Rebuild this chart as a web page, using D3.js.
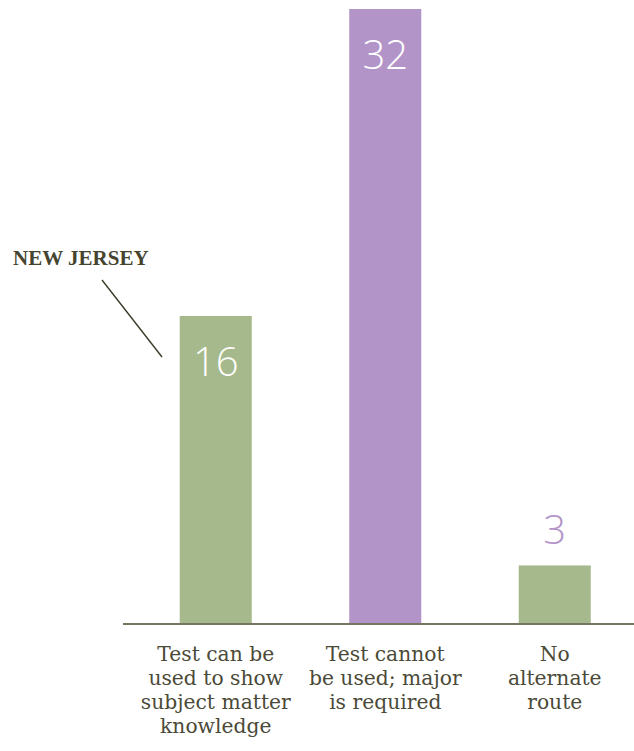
<!DOCTYPE html>
<html>
<head>
<meta charset="utf-8">
<script src="https://cdn.jsdelivr.net/npm/d3@7"></script>
<style>
  html, body { margin: 0; padding: 0; background: #ffffff; }
  svg { display: block; }
  .serif { font-family: "DejaVu Serif", "Liberation Serif", serif; }
  .bserif { font-family: "Liberation Serif", "DejaVu Serif", serif; }
</style>
</head>
<body>
<svg id="chart" width="634" height="751"></svg>
<script>
const categories = ["Test can be used to show subject matter knowledge", "Test cannot be used; major is required", "No alternate route"];
const categoryLines = [
  ["Test can be", "used to show", "subject matter", "knowledge"],
  ["Test cannot", "be used; major", "is required"],
  ["No", "alternate", "route"]
];
const values = [16, 32, 3];
const barColors = ["#a6b98c", "#b394c8", "#a6b98c"];
const labelInside = [true, true, false];
const annotation = "NEW JERSEY";

const svg = d3.select("#chart");
const baseY = 623;

const x = d3.scaleBand()
  .domain(categories)
  .range([131, 639.5])
  .paddingInner(0.575)
  .paddingOuter(0.2875);

const y = d3.scaleLinear().domain([0, 32]).range([baseY, 9]);

// bars
svg.selectAll("rect.bar")
  .data(values)
  .enter().append("rect")
  .attr("class", "bar")
  .attr("x", (d, i) => x(categories[i]))
  .attr("y", d => y(d))
  .attr("width", x.bandwidth())
  .attr("height", d => y(0) - y(d))
  .attr("fill", (d, i) => barColors[i]);

// value labels
svg.selectAll("text.val")
  .data(values)
  .enter().append("text")
  .attr("class", "val")
  .attr("x", (d, i) => x(categories[i]) + x.bandwidth() / 2)
  .attr("y", (d, i) => labelInside[i] ? y(d) + 60 : y(d) - 21)
  .attr("text-anchor", "middle")
  .style("font-family", "'Open Sans', 'Noto Sans', Lato, sans-serif")
  .style("font-weight", 300)
  .style("font-size", "40px")
  .attr("fill", (d, i) => labelInside[i] ? "#ffffff" : "#b394c8")
  .text(d => d);

// axis baseline
svg.append("line")
  .attr("x1", 123).attr("x2", 634)
  .attr("y1", baseY + 1).attr("y2", baseY + 1)
  .attr("stroke", "#77745f")
  .attr("stroke-width", 2);

// category labels
const catG = svg.selectAll("g.cat")
  .data(categories)
  .enter().append("g")
  .attr("class", "cat")
  .attr("transform", d => `translate(${x(d) + x.bandwidth() / 2},0)`);

catG.each(function(d, i) {
  const t = d3.select(this).append("text")
    .attr("class", "serif")
    .attr("text-anchor", "middle")
    .style("font-size", "20.3px")
    .attr("fill", "#4b4a38");
  categoryLines[i].forEach((ln, j) => {
    t.append("tspan").attr("x", 0).attr("y", 661 + j * 24).text(ln);
  });
});

// annotation
svg.append("text")
  .attr("class", "bserif")
  .attr("x", 13).attr("y", 265)
  .style("font-weight", "bold")
  .style("font-size", "21px")
  .attr("fill", "#45442f")
  .text(annotation);

svg.append("line")
  .attr("x1", 102).attr("y1", 280)
  .attr("x2", 162).attr("y2", 357)
  .attr("stroke", "#3c3c2a")
  .attr("stroke-width", 1.4);
</script>
</body>
</html>
